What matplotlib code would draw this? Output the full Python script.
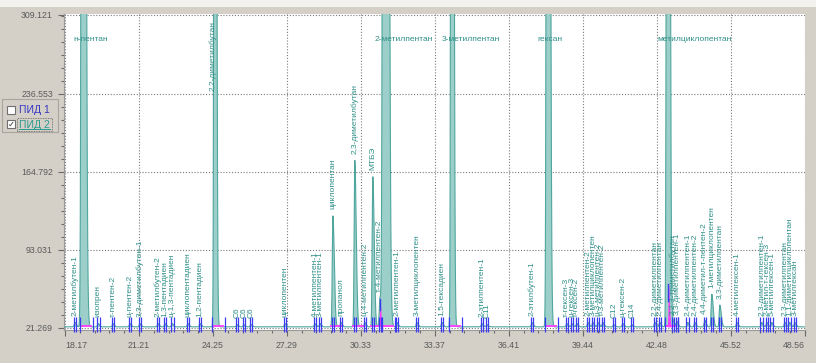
import numpy as np
import matplotlib
matplotlib.use('Agg')
import matplotlib.pyplot as plt
from matplotlib.patches import Rectangle

W, H = 816, 363

# axis ticks
xticks = [18.17, 21.21, 24.25, 27.29, 30.33, 33.37, 36.41, 39.44, 42.48, 45.52, 48.56]
yticks = [21.269, 93.031, 164.792, 236.553, 309.121]
ytick_labels = ["21.269", "93.031", "164.792", "236.553", "309.121"]

# off-scale peaks (label written near the top of the plot)
big_names = ["н-пентан", "2,2-диметилбутан", "2-метилпентан", "3-метилпентан", "гексан", "метилциклопентан"]
big_times = [18.91, 24.33, 31.32, 34.07, 38.01, 42.94]
big_heights = [3200, 1900, 5200, 2600, 3000, 2500]
big_sigma = [0.042, 0.028, 0.05, 0.03, 0.036, 0.034]
big_vertical = [False, True, False, False, False, False]

# small / medium peaks with their labels
pk_names = ["2-метилбутен-1", "изопрен", "т-пентен-2", "ц-пентен-2", "3,3-диметилбутен-1",
            "2-метилбутен-2", "1,3-пентадиен", "ц-1,3-пентадиен", "циклопентадиен", "1,2-пентадиен",
            "С6", "С6", "С6", "циклопентен", "4-метилпентен-1", "3-метилпентен-1",
            "циклопентан", "пропанол", "2,3-диметилбутан", "ц-4-метилпентен-2", "МТБЭ",
            "т-4-метилпентен-2", "2-метилпентен-1", "3-метилциклопентен", "1,5-гексадиен",
            "2-этилпентен-1", "С11", "2-этилбутен-1",
            "т-гексен-3", "ц-гексен-3", "т-гексен-2",
            "2-метилпентен-2", "3-метилциклопентен", "ц-3-метилпентен-2", "т-3-метилпентен-2",
            "С12", "ц-гексен-2", "С14",
            "2,2-диметилпентан", "2,4-диметилпентан", "2,2,3-триметилбутан", "3,3-диметилпентен-1",
            "2,4-диметилпентен-1", "2,4-диметилпентен-2", "4,4-диметил-т-пентен-2",
            "1-метилциклопентен", "3,3-диметилпентан", "4-метилгексен-1",
            "2,3-диметилпентен-1", "2-метил-т-гексен-3", "5-метилгексен-1",
            "2,3-диметилпентан", "1,1-диметилциклопентан", "3-метилгексан"]
pk_times = [18.58, 19.53, 20.14, 20.84, 21.25,
            21.99, 22.28, 22.57, 23.22, 23.72,
            25.24, 25.52, 25.81, 27.21, 28.44, 28.65,
            29.18, 29.51, 30.08, 30.49, 30.82,
            31.11, 31.81, 32.63, 33.66,
            35.30, 35.51, 37.36,
            38.79, 39.00, 39.20,
            39.66, 39.86, 40.07, 40.27,
            40.72, 41.09, 41.46,
            42.41, 42.61, 43.15, 43.31,
            43.76, 44.05, 44.46,
            44.75, 45.08, 45.78,
            46.80, 47.01, 47.21,
            47.75, 47.95, 48.16]
pk_heights = [4, 3, 3, 3, 3,
              3, 3, 3, 3, 3,
              2, 2, 2, 3, 3, 3,
              102, 4, 153, 4, 138,
              26, 4, 4, 4,
              3, 2, 4,
              3, 3, 3,
              4, 4, 4, 4,
              2, 3, 2,
              4, 4, 5, 5,
              4, 4, 6,
              30, 20, 4,
              4, 4, 4,
              4, 4, 4]

# magenta overlay spikes
mag_times = [31.11, 42.97]
mag_heights = [26, 39]

baseline = 22.3
teal = '#4fa69e'
teal_fill = '#9ccfc9'
lab_col = '#2f8f88'
blue = '#3a3af2'
magenta = '#ff3cff'
gray_bg = '#d4d0c8'


def peak(t, t0, h, s, tail=2.2):
    left = h * np.exp(-0.5 * ((t - t0) / s) ** 2)
    right = h * np.exp(-0.5 * ((t - t0) / (s * tail)) ** 2)
    return np.where(t < t0, left, right)


def fx(px):
    return px / W


def fy(py):
    return 1 - py / H


plt.rcParams['font.family'] = ['Liberation Sans', 'DejaVu Sans']

fig = plt.figure(figsize=(W / 100, H / 100), dpi=100, facecolor=gray_bg)
fig.patches.append(Rectangle((0, fy(7)), 1, 7 / H, transform=fig.transFigure,
                             facecolor='#f3f2ef', edgecolor='none', zorder=0))

ax = fig.add_axes([fx(64), fy(330), fx(805) - fx(64), fy(14) - fy(330)])
ax.set_facecolor('white')
ax.set_xlim(18.13, 48.58)
ax.set_ylim(19.4, 310.0)

t = np.linspace(18.13, 48.58, 16000)
sig = np.full_like(t, baseline)
for t0, h, s in zip(big_times, big_heights, big_sigma):
    sig += peak(t, t0, h, s, tail=1.7)
for t0, h in zip(pk_times, pk_heights):
    sig += peak(t, t0, h, 0.026)

# grid
for x in xticks:
    ax.axvline(x, color='#7a7a7a', lw=0.8, ls=(0, (1, 1.6)), zorder=1)
for y in yticks:
    ax.axhline(y, color='#7a7a7a', lw=0.8, ls=(0, (1, 1.6)), zorder=1)

ax.fill_between(t, baseline, sig, color=teal_fill, lw=0, zorder=2)
ax.plot(t, sig, color=teal, lw=0.8, zorder=3)

# integration baseline pieces (magenta) under the larger peaks
for t0 in big_times + [29.18, 30.08, 30.82]:
    ax.plot([t0 - 0.08, t0 + 0.32], [baseline + 1.2, baseline + 1.2], color=magenta, lw=1.3, zorder=4)
for t0, h in zip(mag_times, mag_heights):
    tt = np.linspace(t0 - 0.08, t0 + 0.16, 60)
    ax.fill_between(tt, baseline, baseline + peak(tt, t0, h, 0.018), color=magenta, lw=0, zorder=4)
    ax.plot([t0, t0], [baseline + h * 0.6, baseline + h], color=blue, lw=1.0, zorder=5)

# peak start/end markers
marks = []
for t0 in pk_times:
    marks += [t0 - 0.05, t0 + 0.06]
for t0 in big_times:
    marks += [t0 - 0.12, t0 + 0.42]
ax.vlines(marks, 17.5, 31.0, color=blue, lw=0.9, zorder=5, clip_on=False)

# labels
for name, t0, h in zip(pk_names, pk_times, pk_heights):
    ax.text(t0, baseline + h + 6, name, rotation=90, ha='center', va='bottom',
            fontsize=6.0, color=lab_col, zorder=6, clip_on=True)
for name, t0, vert in zip(big_names, big_times, big_vertical):
    if vert:
        ax.text(t0 - 0.08, 304, name, rotation=90, ha='center', va='top',
                fontsize=6.0, color=lab_col, zorder=6)
    else:
        ax.text(t0 - 0.41, 287, name, ha='left', va='center',
                fontsize=6.0, color=lab_col, zorder=6)

# axes styling
for side in ['top', 'right']:
    ax.spines[side].set_visible(False)
ax.spines['left'].set_color('#9a9a9a')
ax.spines['bottom'].set_color('#9a9a9a')
ax.set_xticks(xticks)
ax.set_xticklabels([f"{v:.2f}" for v in xticks])
ax.set_yticks(yticks)
ax.set_yticklabels(ytick_labels)
ax.set_xticks([v for v in np.arange(18.17, 48.6, 3.04 / 5)], minor=True)
ax.set_yticks([v for v in np.arange(21.269, 310, 71.762 / 6)], minor=True)
ax.tick_params(which='major', direction='out', length=4, width=0.8, color='#6a6a6a',
               labelsize=6.3, labelcolor='#5a5a5a', pad=4)
ax.tick_params(which='minor', direction='out', length=2, width=0.8, color='#6a6a6a')
xl = ax.get_xticklabels()
xl[0].set_ha('left')
xl[-1].set_ha('right')

# channel legend on the left
fig.patches.append(Rectangle((fx(2), fy(132)), fx(58) - fx(2), fy(99) - fy(132),
                             transform=fig.transFigure, facecolor='none',
                             edgecolor='#a8a59e', lw=0.8))
fig.patches.append(Rectangle((fx(7), fy(114)), fx(8), fy(106) - fy(114),
                             transform=fig.transFigure, facecolor='white',
                             edgecolor='#707070', lw=0.8))
fig.patches.append(Rectangle((fx(7), fy(128)), fx(8), fy(120) - fy(128),
                             transform=fig.transFigure, facecolor='white',
                             edgecolor='#707070', lw=0.8))
fig.text(fx(11), fy(124), "✓", fontsize=6, ha='center', va='center', color='#303030',
         family='DejaVu Sans')
fig.text(fx(19), fy(110), "ПИД 1", fontsize=7.5, color='#3636c4', va='center', ha='left')
fig.text(fx(19), fy(124.5), "ПИД 2", fontsize=7.5, color='#2a9a90', va='center', ha='left')
fig.lines.append(matplotlib.lines.Line2D([fx(19), fx(50)], [fy(129), fy(129)],
                                         transform=fig.transFigure, color='#2a9a90', lw=0.7))
fig.patches.append(Rectangle((fx(17), fy(131)), fx(35), fy(118) - fy(131),
                             transform=fig.transFigure, facecolor='none',
                             edgecolor='#606060', lw=0.6, ls=(0, (1, 1))))

fig.savefig("out.png", dpi=100, facecolor=fig.get_facecolor())
